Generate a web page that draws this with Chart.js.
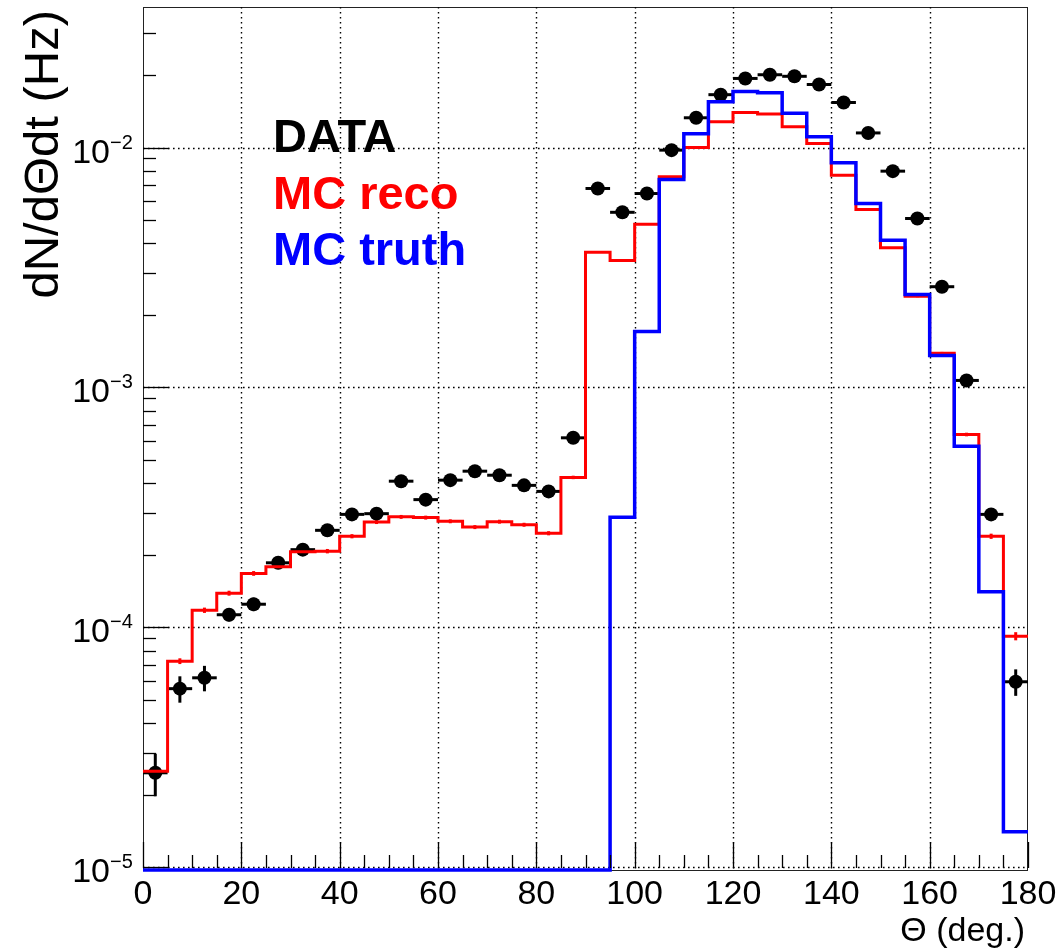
<!DOCTYPE html>
<html>
<head>
<meta charset="utf-8">
<script src="https://cdn.jsdelivr.net/npm/chart.js@4.4.1/dist/chart.umd.min.js"></script>
<style>
  html, body { margin: 0; padding: 0; background: #fff; }
  #wrap { width: 1064px; height: 949px; position: relative; }
</style>
</head>
<body>
<div id="wrap"><canvas id="chart"></canvas></div>
<script>
// Theta bins, 5 degrees wide
const binCenters = [2.5, 7.5, 12.5, 17.5, 22.5, 27.5, 32.5, 37.5, 42.5, 47.5, 52.5, 57.5,
  62.5, 67.5, 72.5, 77.5, 82.5, 87.5, 92.5, 97.5, 102.5, 107.5, 112.5, 117.5,
  122.5, 127.5, 132.5, 137.5, 142.5, 147.5, 152.5, 157.5, 162.5, 167.5, 172.5, 177.5];

const dataValues = [2.48e-5, 5.56e-5, 6.17e-5, 1.13e-4, 1.25e-4, 1.86e-4, 2.11e-4, 2.54e-4,
  2.96e-4, 2.98e-4, 4.07e-4, 3.41e-4, 4.11e-4, 4.48e-4, 4.31e-4, 3.91e-4, 3.69e-4, 6.17e-4,
  6.75e-3, 5.37e-3, 6.43e-3, 9.75e-3, 1.33e-2, 1.66e-2, 1.94e-2, 2.01e-2, 1.98e-2, 1.83e-2,
  1.54e-2, 1.15e-2, 7.97e-3, 5.06e-3, 2.63e-3, 1.07e-3, 2.96e-4, 5.94e-5];
const dataErrors = [0.5e-5, 0.7e-5, 0.75e-5, 0.7e-5, 0.8e-5, 0.9e-5, 0.9e-5, 1.0e-5,
  1.0e-5, 1.0e-5, 1.2e-5, 1.1e-5, 1.2e-5, 1.2e-5, 1.2e-5, 1.1e-5, 1.1e-5, 1.5e-5,
  5e-5, 4.5e-5, 5e-5, 6e-5, 7e-5, 8e-5, 9e-5, 9e-5, 9e-5, 8.5e-5,
  8e-5, 7e-5, 5.5e-5, 4.5e-5, 3.2e-5, 2e-5, 1.1e-5, 0.75e-5];

const recoValues = [2.52e-5, 7.24e-5, 1.18e-4, 1.39e-4, 1.68e-4, 1.79e-4, 2.07e-4, 2.08e-4,
  2.40e-4, 2.75e-4, 2.89e-4, 2.87e-4, 2.77e-4, 2.62e-4, 2.76e-4, 2.68e-4, 2.47e-4, 4.22e-4,
  3.66e-3, 3.38e-3, 4.79e-3, 7.55e-3, 1.00e-2, 1.28e-2, 1.40e-2, 1.38e-2, 1.22e-2, 1.04e-2,
  7.67e-3, 5.52e-3, 3.82e-3, 2.40e-3, 1.39e-3, 6.37e-4, 2.40e-4, 9.2e-5];
const recoErrors = [1.0e-6, 2.0e-6, 3.0e-6, 3.3e-6, 3.8e-6, 4.0e-6, 4.4e-6, 4.4e-6,
  4.8e-6, 5.2e-6, 5.4e-6, 5.4e-6, 5.2e-6, 5.0e-6, 5.2e-6, 5.1e-6, 4.9e-6, 7e-6,
  2.5e-5, 2.4e-5, 3e-5, 4e-5, 5e-5, 6e-5, 6e-5, 6e-5, 5.5e-5, 5e-5,
  4e-5, 3.5e-5, 3e-5, 2.3e-5, 1.7e-5, 1.1e-5, 6e-6, 3.6e-6];

const truthValues = [0, 0, 0, 0, 0, 0, 0, 0, 0, 0, 0, 0, 0, 0, 0, 0, 0, 0, 0,
  2.88e-4, 1.71e-3, 7.36e-3, 1.14e-2, 1.55e-2, 1.71e-2, 1.69e-2, 1.39e-2, 1.11e-2,
  8.63e-3, 5.84e-3, 4.11e-3, 2.44e-3, 1.36e-3, 5.69e-4, 1.41e-4, 1.41e-5];

const xTicks = [0, 20, 40, 60, 80, 100, 120, 140, 160, 180];
const yDecades = [1e-5, 1e-4, 1e-3, 1e-2];
const yTickExponents = ['\u22125', '\u22124', '\u22123', '\u22122'];
const legendLabels = ['DATA', 'MC reco', 'MC truth'];

const X_MIN = 0, X_MAX = 180;
const Y_MIN = 9.76e-6, Y_MAX = 0.0385;
const FONT = "'Liberation Sans', Arial, Helvetica, sans-serif";
const RED = '#ff0000', BLUE = '#0000ff';

const binWidth = binCenters[1] - binCenters[0];

// histogram as step line through bin low edges, closed at the last upper edge;
// empty bins sit on the bottom of the frame like ROOT draws them
function histPoints(values) {
  const pts = values.map((v, i) => ({ x: binCenters[i] - binWidth / 2, y: v > 0 ? v : Y_MIN }));
  const last = values[values.length - 1];
  pts.push({ x: binCenters[binCenters.length - 1] + binWidth / 2, y: last > 0 ? last : Y_MIN });
  return pts;
}

function line(ctx, x1, y1, x2, y2) {
  ctx.beginPath();
  ctx.moveTo(x1, y1);
  ctx.lineTo(x2, y2);
  ctx.stroke();
}

function drawErrors(chart, values, errors, color, width, withX) {
  const { ctx, scales: { x, y } } = chart;
  ctx.strokeStyle = color;
  ctx.lineWidth = width;
  values.forEach((v, i) => {
    const px = x.getPixelForValue(binCenters[i]);
    const py = y.getPixelForValue(v);
    line(ctx, px, y.getPixelForValue(v + errors[i]), px, y.getPixelForValue(Math.max(v - errors[i], Y_MIN)));
    if (withX) {
      line(ctx, x.getPixelForValue(binCenters[i] - binWidth / 2), py,
        x.getPixelForValue(binCenters[i] + binWidth / 2), py);
    }
  });
}

const rootStyle = {
  id: 'rootStyle',
  beforeDatasetsDraw(chart) {
    const { ctx, chartArea: a, scales: { x, y } } = chart;
    ctx.save();
    // frame
    ctx.strokeStyle = '#222';
    ctx.lineWidth = 1;
    ctx.strokeRect(a.left + 0.5, a.top + 0.5, a.right - a.left - 1, a.bottom - a.top);

    // dotted grid
    ctx.strokeStyle = '#000';
    ctx.lineWidth = 1.4;
    ctx.setLineDash([1.6, 3.4]);
    xTicks.forEach((v) => {
      if (v <= X_MIN || v >= X_MAX) return;
      const px = Math.round(x.getPixelForValue(v)) + 0.5;
      line(ctx, px, a.top, px, a.bottom);
    });
    yDecades.forEach((v) => {
      const py = Math.round(y.getPixelForValue(v)) + 0.5;
      line(ctx, a.left, py, a.right, py);
    });
    ctx.setLineDash([]);
    // error bars, under the markers
    drawErrors(chart, dataValues, dataErrors, '#000', 3, true);
    drawErrors(chart, recoValues, recoErrors, RED, 3, false);
    ctx.restore();
  },
  afterDatasetsDraw(chart) {
    const { ctx, chartArea: a, scales: { x, y } } = chart;
    ctx.save();
    // x ticks
    ctx.strokeStyle = '#000';
    ctx.lineWidth = 1.3;
    for (let v = X_MIN; v <= X_MAX; v += binWidth) {
      const px = Math.round(x.getPixelForValue(v)) + 0.5;
      const len = v % 20 === 0 ? 26 : 13;
      line(ctx, px, a.bottom - 2, px, a.bottom - 2 - len);
    }
    // y ticks (log)
    for (let k = -6; k <= -1; k++) {
      for (let m = 1; m <= 9; m++) {
        const v = m * Math.pow(10, k);
        if (v < Y_MIN || v > Y_MAX) continue;
        const py = Math.round(y.getPixelForValue(v)) + 0.5;
        line(ctx, a.left, py, a.left + (m === 1 ? 26 : 13), py);
      }
    }

    // tick labels
    ctx.fillStyle = '#000';
    ctx.textBaseline = 'alphabetic';
    ctx.font = `34px ${FONT}`;
    ctx.textAlign = 'center';
    xTicks.forEach((v) => {
      ctx.fillText(String(v), x.getPixelForValue(v), a.bottom + 34);
    });
    yDecades.forEach((v, i) => {
      const py = y.getPixelForValue(v);
      ctx.font = `34px ${FONT}`;
      ctx.textAlign = 'right';
      ctx.fillText('10', a.left - 33, py + 15);
      ctx.font = `20px ${FONT}`;
      ctx.textAlign = 'left';
      ctx.fillText(yTickExponents[i], a.left - 33, py + 1);
    });

    // axis titles
    ctx.font = `34px ${FONT}`;
    ctx.textAlign = 'right';
    ctx.fillText('\u0398 (deg.)', a.right - 3, 941);

    ctx.save();
    ctx.translate(58, 10);
    ctx.rotate(-Math.PI / 2);
    ctx.font = `49px ${FONT}`;
    ctx.textAlign = 'right';
    ctx.fillText('dN/d\u0398dt (Hz)', 0, 0);
    ctx.restore();

    // legend text
    ctx.font = `bold 47px ${FONT}`;
    ctx.textAlign = 'left';
    const colors = ['#000', RED, BLUE];
    legendLabels.forEach((t, i) => {
      ctx.fillStyle = colors[i];
      ctx.fillText(t, 273, 152 + i * 56.5);
    });
    ctx.restore();
  }
};

new Chart(document.getElementById('chart'), {
  type: 'line',
  data: {
    datasets: [
      {
        label: 'MC truth',
        data: histPoints(truthValues),
        borderColor: BLUE,
        borderWidth: 3.5,
        stepped: true,
        pointRadius: 0,
        fill: false,
        clip: false,
        order: 0
      },
      {
        label: 'MC reco',
        data: histPoints(recoValues),
        borderColor: RED,
        borderWidth: 3,
        stepped: true,
        pointRadius: 0,
        fill: false,
        order: 1
      },
      {
        label: 'DATA',
        data: dataValues.map((v, i) => ({ x: binCenters[i], y: v })),
        showLine: false,
        pointRadius: 7,
        pointBackgroundColor: '#000',
        pointBorderColor: '#000',
        pointBorderWidth: 0,
        order: 2
      }
    ]
  },
  options: {
    responsive: true,
    maintainAspectRatio: false,
    devicePixelRatio: 1,
    animation: false,
    layout: { padding: { left: 143, top: 7, right: 36, bottom: 79 } },
    plugins: {
      legend: { display: false },
      tooltip: { enabled: false }
    },
    scales: {
      x: { type: 'linear', min: X_MIN, max: X_MAX, display: false },
      y: { type: 'logarithmic', min: Y_MIN, max: Y_MAX, display: false }
    }
  },
  plugins: [rootStyle]
});
</script>
</body>
</html>
